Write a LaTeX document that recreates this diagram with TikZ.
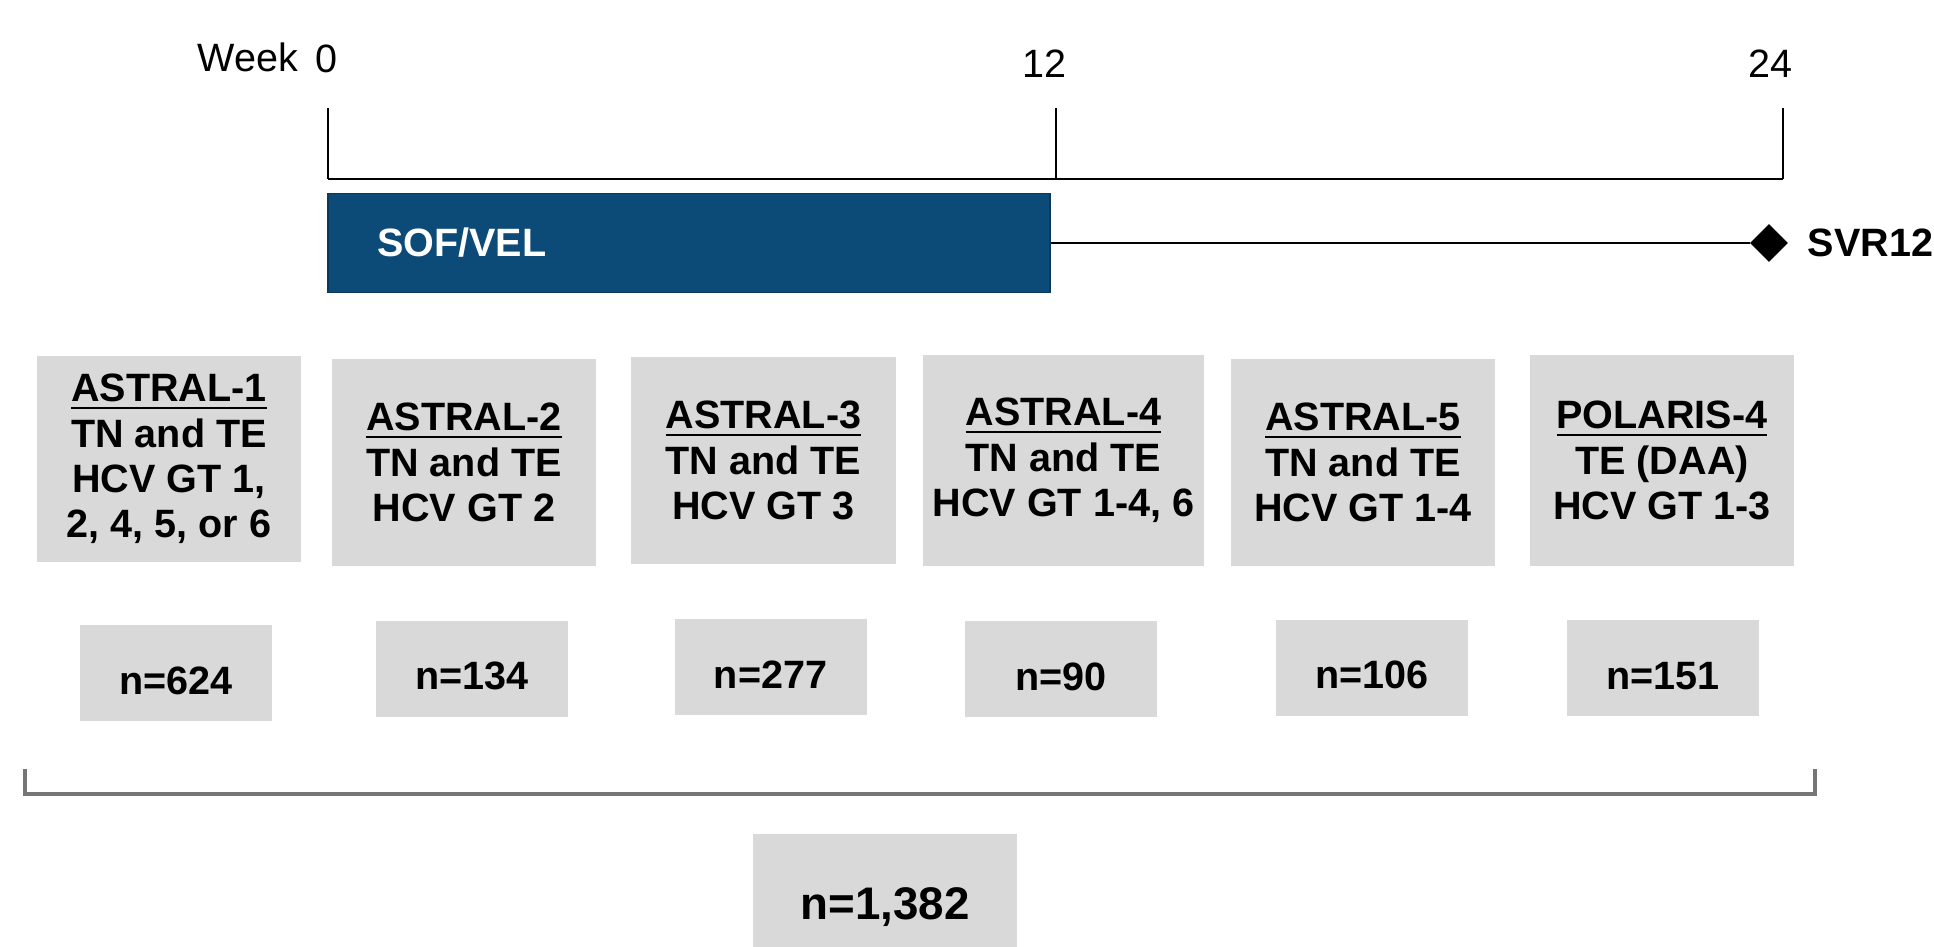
\documentclass[tikz,border=0pt]{standalone}
\usepackage{fontspec}
\setmainfont{Liberation Sans}
\usetikzlibrary{positioning,shapes.geometric}

\definecolor{sofblue}{RGB}{12,75,120}
\definecolor{sofedge}{RGB}{9,57,92}
\definecolor{boxgray}{RGB}{217,217,217}
\definecolor{bracegray}{RGB}{118,118,118}

\newsavebox{\studybox}
\newcommand{\studyname}[1]{\sbox{\studybox}{#1}\rlap{\rule[-0.15cm]{\wd\studybox}{0.05cm}}\usebox{\studybox}}

\begin{document}
\begin{tikzpicture}[font=\fontsize{22.5}{25.8}\selectfont]
  \tikzstyle{studybox}=[fill=boxgray,font=\fontsize{22.5}{25.8}\selectfont\bfseries,align=center,minimum width=5.28cm,minimum height=4.14cm,inner sep=0pt]
  \tikzstyle{nbox}=[fill=boxgray,font=\fontsize{22.5}{25.8}\selectfont\bfseries,minimum width=3.84cm,minimum height=1.92cm,text height=0.84cm,text depth=0pt,inner sep=0pt]
  \tikzstyle{drug}=[fill=sofblue,draw=sofedge,line width=1.1pt,text=white,font=\fontsize{22.5}{25.8}\selectfont\bfseries,text width=12.48cm,align=left,inner xsep=0.98cm,minimum height=1.98cm]
  \useasboundingbox (0,0) rectangle (38.68,-18.94);

  % weeks
  \coordinate (t0) at (6.56,-2.16);
  \coordinate (t12) at (21.12,-2.16);
  \coordinate (t24) at (35.66,-2.16);
  \coordinate (b0) at (6.56,-3.58);
  \coordinate (b12) at (21.12,-3.58);
  \coordinate (b24) at (35.66,-3.58);
  \draw[line width=1.1pt] (t0) -- (b0);
  \draw[line width=1.1pt] (t12) -- (b12);
  \draw[line width=1.1pt] (t24) -- (b24);
  \draw[line width=1.7pt] (b0) -- (b24);
  \node (wk) at (4.96,-1.14) {Week};
  \node (w0) at (6.52,-1.18) {0};
  \node (w12) at (20.88,-1.28) {12};
  \node (w24) at (35.40,-1.28) {24};

  % treatment
  \node[drug] (sofvel) at (13.78,-4.86) {SOF/VEL};
  \node[diamond,fill=black,inner sep=0pt,minimum size=0.76cm] (svr) at (35.38,-4.86) {};
  \draw[line width=1.1pt] (sofvel) -- (svr);
  \node[font=\fontsize{22.5}{25.8}\selectfont\bfseries,inner sep=0pt,right=0.38cm of svr] (svrlab) {SVR12};

  % studies
  \node[studybox,minimum height=4.12cm] (astral1) at (3.38,-9.18) {\studyname{ASTRAL-1}\\TN and TE\\HCV GT 1,\\2, 4, 5, or 6};
  \node[studybox] (astral2) at (9.28,-9.25) {\studyname{ASTRAL-2}\\TN and TE\\HCV GT 2};
  \node[studybox,minimum width=5.30cm] (astral3) at (15.27,-9.21) {\studyname{ASTRAL-3}\\TN and TE\\HCV GT 3};
  \node[studybox,minimum width=5.62cm,minimum height=4.22cm] (astral4) at (21.27,-9.21) {\studyname{ASTRAL-4}\\TN and TE\\HCV GT 1-4, 6};
  \node[studybox] (astral5) at (27.26,-9.25) {\studyname{ASTRAL-5}\\TN and TE\\HCV GT 1-4};
  \node[studybox,minimum height=4.22cm] (polaris4) at (33.24,-9.21) {\studyname{POLARIS-4}\\TE (DAA)\\HCV GT 1-3};

  \node[nbox] (n1) at (3.52,-13.46) {n=624};
  \node[nbox] (n2) at (9.44,-13.37) {n=134};
  \node[nbox] (n3) at (15.41,-13.34) {n=277};
  \node[nbox] (n4) at (21.22,-13.38) {n=90};
  \node[nbox] (n5) at (27.44,-13.35) {n=106};
  \node[nbox] (n6) at (33.26,-13.36) {n=151};

  % pooled
  \coordinate (brl) at (0.5,-15.38);
  \coordinate (brr) at (36.3,-15.38);
  \draw[bracegray,line width=2.3pt] (brl) -- ++(0,-0.5) -| (brr);
  \node[fill=boxgray,font=\fontsize{26}{30}\selectfont\bfseries,minimum width=5.28cm,minimum height=2.92cm,inner sep=0pt] (total) at (17.70,-18.14) {n=1,382};
\end{tikzpicture}
\end{document}
